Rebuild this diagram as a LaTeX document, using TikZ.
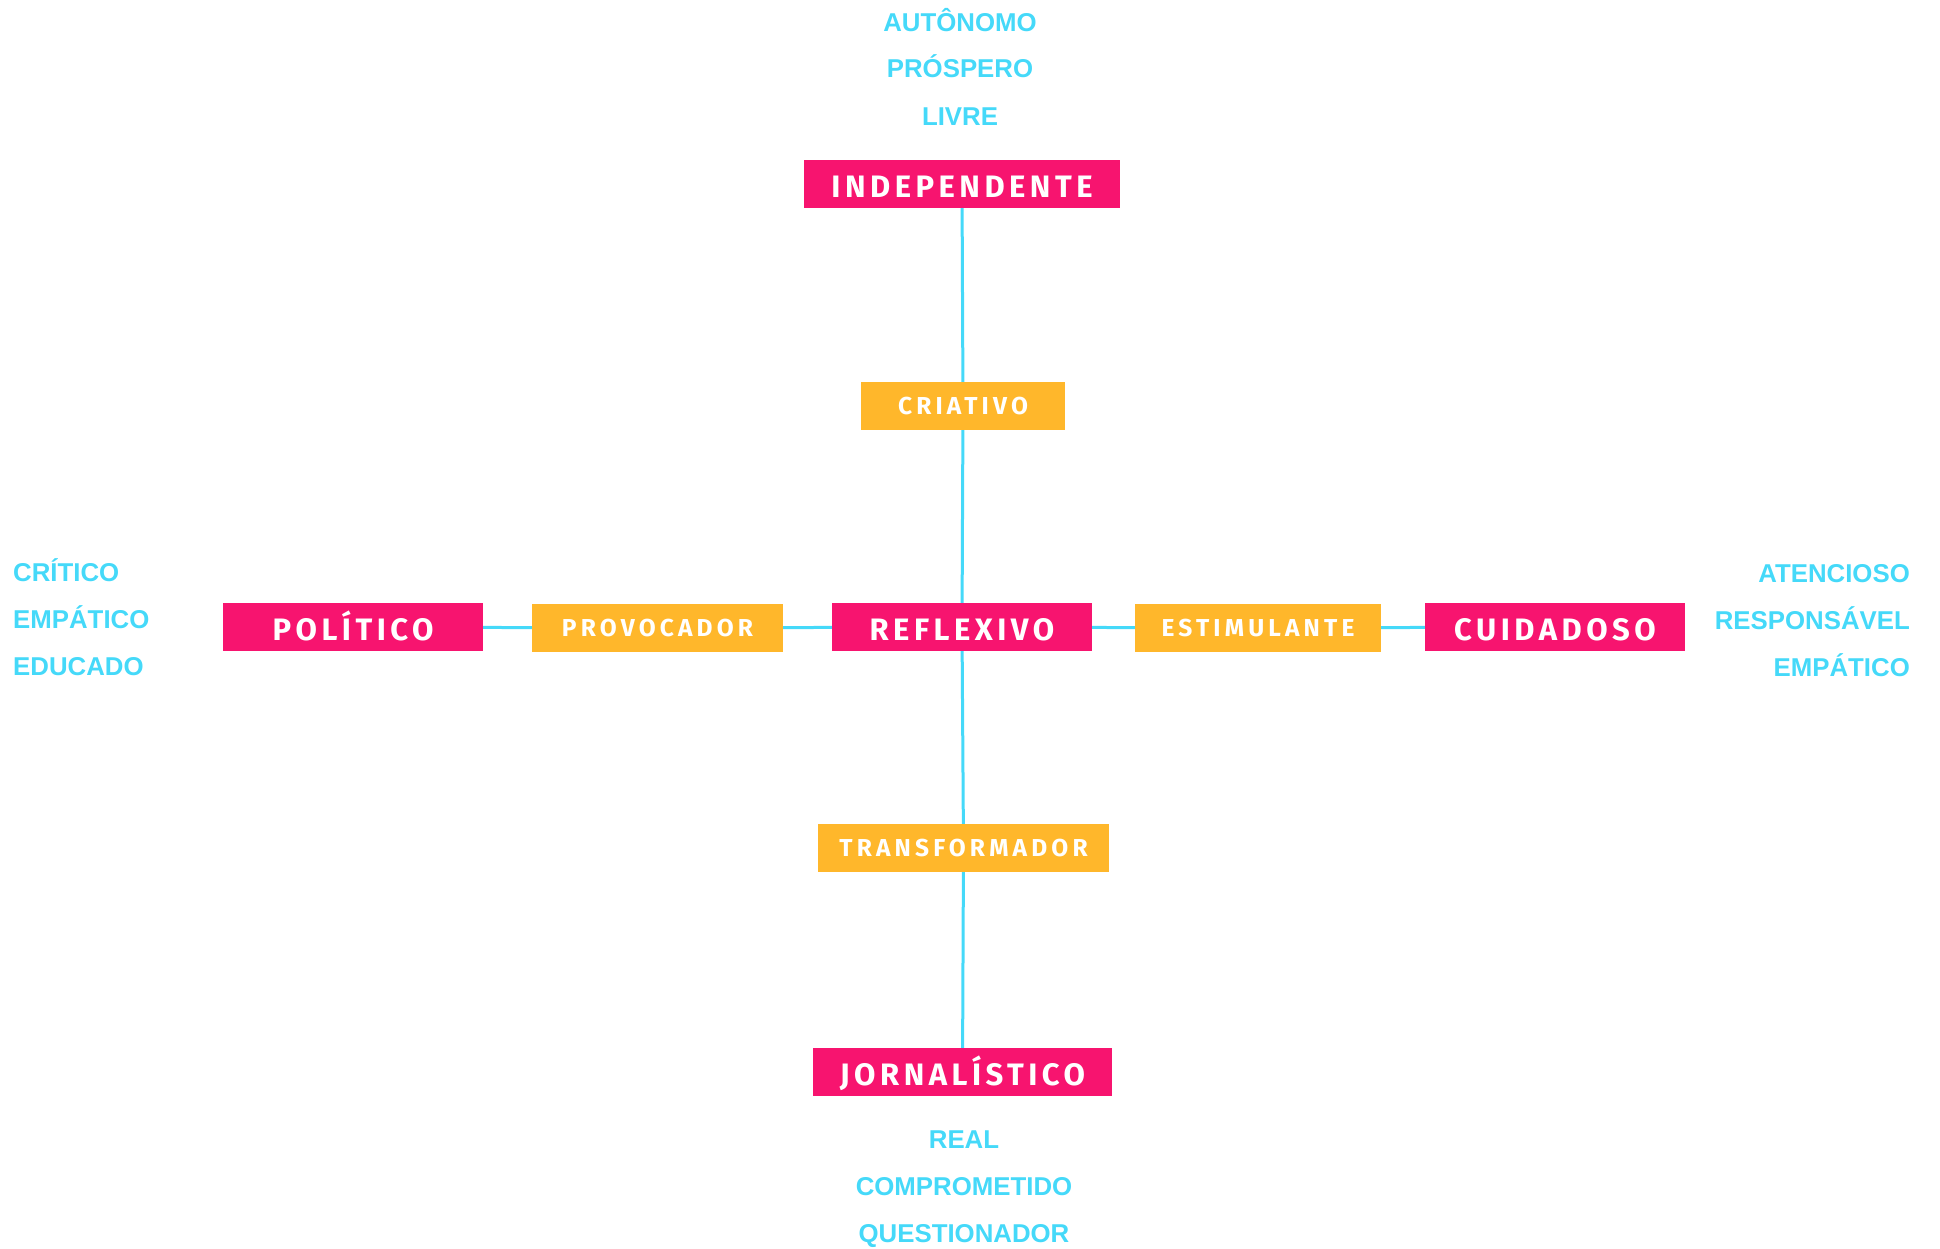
\documentclass[tikz,border=0pt]{standalone}
\usepackage{fontspec}
\setmainfont{Liberation Sans}
\newfontfamily\boxfont[LetterSpace=14.5]{Fira Sans}
\newfontfamily\midfont[LetterSpace=17]{Fira Sans}
\newfontfamily\blufont{Liberation Sans}
\definecolor{pinkc}{HTML}{F7146F}
\definecolor{orangec}{HTML}{FFB72B}
\definecolor{cyanc}{HTML}{45D9F9}
\tikzset{
  mainbox/.style={fill=pinkc, text=white, inner sep=0pt, minimum height=48pt,
    font=\boxfont\bfseries\fontsize{31}{31}\selectfont, text height=26pt, text depth=0pt},
  midbox/.style={fill=orangec, text=white, inner sep=0pt, minimum height=48pt,
    font=\midfont\bfseries\fontsize{24.5}{24.5}\selectfont, text height=17pt, text depth=0pt},
  trait/.style={text=cyanc, inner sep=0pt, font=\blufont\bfseries\fontsize{25.8}{25.8}\selectfont,
    text height=18.5pt, text depth=0pt},
  conn/.style={draw=cyanc, line width=3pt}
}
\begin{document}
\begin{tikzpicture}[x=1pt,y=-1pt]
\useasboundingbox (0,0) rectangle (1940,1248);
% main boxes
\node[mainbox, minimum width=316pt] (indep) at (962,184) {INDEPENDENTE};
\node[mainbox, minimum width=260pt] (refl) at (962,627) {REFLEXIVO};
\node[mainbox, minimum width=260pt] (pol) at (353,627) {POLÍTICO};
\node[mainbox, minimum width=260pt] (cuid) at (1555,627) {CUIDADOSO};
\node[mainbox, minimum width=299pt] (jorn) at (962.5,1072) {JORNALÍSTICO};
% mid boxes
\node[midbox, minimum width=204pt] (criat) at (963,406) {CRIATIVO};
\node[midbox, minimum width=251pt] (prov) at (657.5,628) {PROVOCADOR};
\node[midbox, minimum width=246pt] (estim) at (1258,628) {ESTIMULANTE};
\node[midbox, minimum width=291pt] (transf) at (963.5,848) {TRANSFORMADOR};
% connectors
\draw[conn] (indep) -- (criat);
\draw[conn] (criat) -- (refl);
\draw[conn] (refl) -- (transf);
\draw[conn] (transf) -- (jorn);
\draw[conn] (pol) -- (prov);
\draw[conn] (prov) -- (refl);
\draw[conn] (refl) -- (estim);
\draw[conn] (estim) -- (cuid);
% top traits
\node[trait] (t1) at (960,22) {AUTÔNOMO};
\node[trait] (t2) at (960,68) {PRÓSPERO};
\node[trait] (t3) at (960,116) {LIVRE};
% left traits
\node[trait, anchor=west] (l1) at (13,572) {CRÍTICO};
\node[trait, anchor=west] (l2) at (13,619) {EMPÁTICO};
\node[trait, anchor=west] (l3) at (13,666) {EDUCADO};
% right traits
\node[trait, anchor=east] (r1) at (1910,573) {ATENCIOSO};
\node[trait, anchor=east] (r2) at (1910,620) {RESPONSÁVEL};
\node[trait, anchor=east] (r3) at (1910,667) {EMPÁTICO};
% bottom traits
\node[trait] (b1) at (964,1139) {REAL};
\node[trait] (b2) at (964,1186) {COMPROMETIDO};
\node[trait] (b3) at (964,1233) {QUESTIONADOR};
\end{tikzpicture}
\end{document}
